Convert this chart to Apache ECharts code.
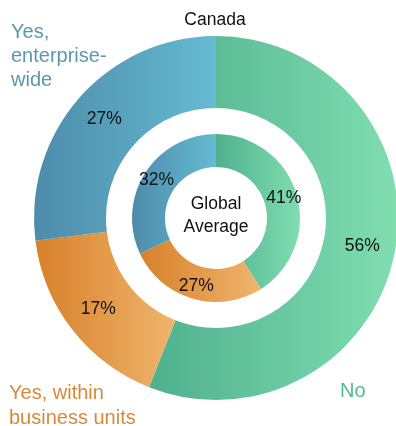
<!DOCTYPE html>
<html>
<head>
<meta charset="utf-8">
<script src="https://cdn.jsdelivr.net/npm/echarts@6/dist/echarts.min.js"></script>
<style>
html,body{margin:0;padding:0;background:#fff;}
#chart{width:396px;height:426px;}
</style>
</head>
<body>
<div id="chart"></div>
<script>
const categories = ['No', 'Yes, within business units', 'Yes, enterprise-wide'];
const canadaValues = [56, 17, 27];
const globalValues = [41, 27, 32];

const fillStops = [
  ['#4fb08e', '#80deb1'],
  ['#d8802a', '#efb56d'],
  ['#4d8cab', '#66bad2']
];
const labelColors = ['#56b993', '#d9883a', '#5a97b2'];

function gradient(i) {
  return new echarts.graphic.LinearGradient(0, 0, 1, 0, [
    { offset: 0, color: fillStops[i][0] },
    { offset: 1, color: fillStops[i][1] }
  ]);
}

function ringData(values) {
  return values.map((v, i) => ({
    name: categories[i],
    value: v,
    itemStyle: { color: gradient(i) }
  }));
}

const font = 'Liberation Sans, Arial, sans-serif';
const pctLabel = {
  show: true,
  position: 'inside',
  formatter: '{c}%',
  color: '#111',
  fontSize: 17.5,
  fontFamily: font
};

const chart = echarts.init(document.getElementById('chart'), null, { renderer: 'canvas' });
chart.setOption({
  animation: false,
  series: [
    {
      type: 'pie',
      center: [216, 218],
      radius: [110, 182],
      startAngle: 90,
      clockwise: true,
      silent: true,
      label: pctLabel,
      labelLine: { show: false },
      data: ringData(canadaValues)
    },
    {
      type: 'pie',
      center: [216, 218],
      radius: [51, 84],
      startAngle: 90,
      clockwise: true,
      silent: true,
      label: pctLabel,
      labelLine: { show: false },
      data: ringData(globalValues)
    }
  ],
  graphic: [
    { type: 'text', x: 215, y: 20, style: { text: 'Canada', fontSize: 17.5, fontFamily: font, fill: '#111', align: 'center', verticalAlign: 'middle' } },
    { type: 'text', x: 216, y: 216, style: { text: 'Global\nAverage', fontSize: 17.5, lineHeight: 23, fontFamily: font, fill: '#111', align: 'center', verticalAlign: 'middle' } },
    { type: 'text', x: 11, y: 20, style: { text: 'Yes,\nenterprise-\nwide', fontSize: 20, lineHeight: 24, fontFamily: font, fill: labelColors[2] } },
    { type: 'text', x: 9, y: 381, style: { text: 'Yes, within\nbusiness units', fontSize: 20, lineHeight: 25, fontFamily: font, fill: labelColors[1] } },
    { type: 'text', x: 340, y: 381, style: { text: 'No', fontSize: 20, fontFamily: font, fill: labelColors[0] } }
  ]
});
</script>
</body>
</html>
